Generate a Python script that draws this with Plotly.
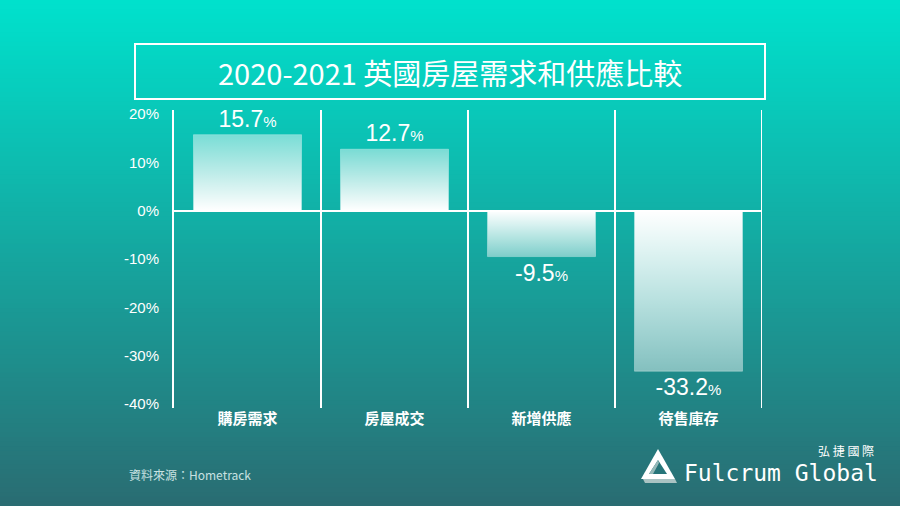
import plotly.graph_objects as go

# ---- data ----
categories = ["購房需求", "房屋成交", "新增供應", "待售庫存"]
values = [15.7, 12.7, -9.5, -33.2]
y_ticks = [20, 10, 0, -10, -20, -30, -40]
y_tick_labels = [f"{t}%" for t in y_ticks]
title_text = "2020-2021 英國房屋需求和供應比較"
source_text = "資料來源：Hometrack"

# ---- geometry (pixels) ----
FW, FH = 900, 506
L, R, T, B = 174, 762, 110, 408
PW, PH = R - L, B - T


def px(xp, yp):
    return (xp - L) / PW, (B - yp) / PH


top_c = (0, 226, 205)
bot_c = (42, 108, 114)


def bg_at(yp):
    t = yp / FH
    return tuple(round(a + (b - a) * t) for a, b in zip(top_c, bot_c))


shapes = []
# gradient background bands
N = 110
for k in range(N):
    y0p = k * FH / N
    y1p = (k + 1) * FH / N + 1
    c = bg_at((y0p + y1p) / 2)
    x0, y0 = px(-2, y0p)
    x1, y1 = px(FW + 2, y1p)
    shapes.append(dict(type="rect", xref="paper", yref="paper", x0=x0, x1=x1,
                       y0=y1, y1=y0, line=dict(width=0),
                       fillcolor=f"rgb{c}", layer="below"))

# title box
bx0, by0 = px(135, 44)
bx1, by1 = px(765, 99)
shapes.append(dict(type="rect", xref="paper", yref="paper", x0=bx0, x1=bx1,
                   y0=by1, y1=by0, line=dict(color="white", width=2),
                   fillcolor="rgba(0,0,0,0)"))

# category separators
for i in range(len(categories)):
    shapes.append(dict(type="line", xref="x", yref="paper", x0=i + 0.5, x1=i + 0.5,
                       y0=0, y1=1, line=dict(color="white", width=2)))


def path(pts):
    s = ""
    for j, (a, b) in enumerate(pts):
        xx, yy = px(a, b)
        s += ("M" if j == 0 else "L") + f"{xx},{yy} "
    return s + "Z"


# logo triangle
shapes.append(dict(type="path", xref="paper", yref="paper",
                   path=path([(658, 449), (641, 479), (675, 479)]),
                   fillcolor="white", line=dict(width=0)))
shapes.append(dict(type="path", xref="paper", yref="paper",
                   path=path([(643, 479), (675, 479), (677, 483), (645, 483)]),
                   fillcolor="rgb(170,195,195)", line=dict(width=0)))
shapes.append(dict(type="path", xref="paper", yref="paper",
                   path=path([(658, 460), (649, 474), (667, 474)]),
                   fillcolor=f"rgb{bg_at(466)}", line=dict(width=0)))
shapes.append(dict(type="path", xref="paper", yref="paper",
                   path=path([(658, 460), (649, 474), (653, 474), (659, 463)]),
                   fillcolor="rgb(150,185,185)", line=dict(width=0)))

fig = go.Figure()

bw = 0.735
for i, v in enumerate(values):
    xs = [i - bw / 2, i + bw / 2, i + bw / 2, i - bw / 2, i - bw / 2]
    ys = [0, 0, v, v, 0]
    if v >= 0:
        cs = [[0, "rgba(255,255,255,1)"], [1, "rgba(255,255,255,0.45)"]]
    else:
        cs = [[0, "rgba(255,255,255,0.45)"], [1, "rgba(255,255,255,1)"]]
    fig.add_trace(go.Scatter(
        x=xs, y=ys, mode="lines", fill="toself",
        fillgradient=dict(type="vertical", colorscale=cs),
        line=dict(color="rgba(255,255,255,0.3)", width=1),
        hoverinfo="skip", showlegend=False))

# labels via invisible bar trace
fig.add_trace(go.Bar(
    x=list(range(len(categories))), y=values, width=bw,
    marker=dict(color="rgba(0,0,0,0)", line=dict(width=0)),
    text=[f"{v:.1f}<span style='font-size:15px'>%</span>" for v in values],
    textposition="outside", cliponaxis=False,
    textfont=dict(color="white", size=23, family="Liberation Sans"),
    hoverinfo="skip", showlegend=False))

annotations = [
    dict(text=title_text, xref="paper", yref="paper",
         x=px(450, 0)[0], y=px(0, 72)[1], showarrow=False,
         xanchor="center", yanchor="middle",
         font=dict(color="white", size=29, family="Noto Sans CJK TC")),
    dict(text=source_text, xref="paper", yref="paper",
         x=px(127, 0)[0], y=px(0, 474)[1], showarrow=False,
         xanchor="left", yanchor="middle",
         font=dict(color="rgb(200,225,225)", size=12, family="Noto Sans CJK TC")),
    dict(text="Fulcrum Global", xref="paper", yref="paper",
         x=px(682, 0)[0], y=px(0, 473)[1], showarrow=False,
         xanchor="left", yanchor="middle",
         font=dict(color="white", size=23, family="DejaVu Sans Mono")),
    dict(text="弘 捷 國 際", xref="paper", yref="paper",
         x=px(876, 0)[0], y=px(0, 450)[1], showarrow=False,
         xanchor="right", yanchor="middle",
         font=dict(color="white", size=12, family="Noto Sans CJK TC")),
]

fig.update_layout(
    width=FW, height=FH,
    margin=dict(l=L, r=FW - R, t=T, b=FH - B, pad=0),
    paper_bgcolor=f"rgb{bg_at(250)}",
    plot_bgcolor="rgba(0,0,0,0)",
    shapes=shapes, annotations=annotations,
    xaxis=dict(range=[-0.5, len(categories) - 0.5], tickvals=list(range(len(categories))),
               ticktext=categories, showgrid=False, zeroline=False, showline=False,
               ticks="", tickfont=dict(color="white", size=15, family="Noto Sans CJK TC",
                                       weight="bold"),
               fixedrange=True),
    yaxis=dict(range=[-40.8, 20.8], tickvals=y_ticks, ticktext=y_tick_labels,
               showgrid=False, zeroline=True, zerolinecolor="white", zerolinewidth=2,
               showline=True, linecolor="white", linewidth=2, ticks="",
               ticklabelstandoff=10,
               tickfont=dict(color="white", size=15, family="Liberation Sans"),
               fixedrange=True),
    showlegend=False,
)

fig.write_html("out.html")
